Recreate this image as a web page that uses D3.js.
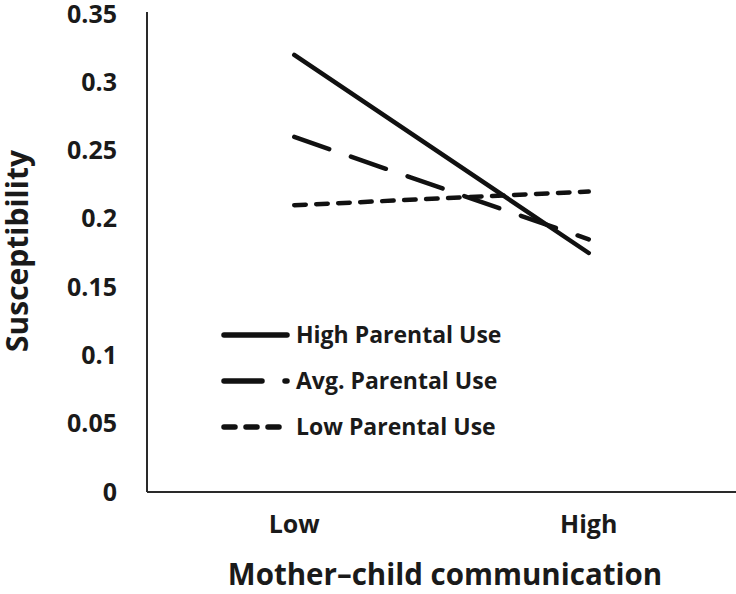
<!DOCTYPE html>
<html><head><meta charset="utf-8">
<script src="https://cdn.jsdelivr.net/npm/d3@7"></script>
<style>body{margin:0;background:#fff}svg{display:block}text{font-family:"Open Sans",sans-serif;font-weight:bold;fill:#1a1a1a}</style>
</head><body><svg id="c" width="736" height="594"></svg>
<script>
const categories = ["Low", "High"];
const seriesNames = ["High Parental Use", "Avg. Parental Use", "Low Parental Use"];
const highUse = [0.32, 0.175];
const avgUse = [0.26, 0.185];
const lowUse = [0.21, 0.22];
const yTicks = [0, 0.05, 0.1, 0.15, 0.2, 0.25, 0.3, 0.35];
const yTickLabels = ["0", "0.05", "0.1", "0.15", "0.2", "0.25", "0.3", "0.35"];

const series = [
  {name: seriesNames[0], values: highUse, dash: null, legDash: null},
  {name: seriesNames[1], values: avgUse, dash: "37,23", legDash: "38,23"},
  {name: seriesNames[2], values: lowUse, dash: "11.5,10.5", legDash: "11,11"}
];

const svg = d3.select("#c");
const mL = 147, mR = 736, mT = 14, mB = 492;
const x = d3.scaleBand().domain(categories).range([mL, mR]);
const y = d3.scaleLinear().domain([0, 0.35]).range([mB, mT]);
const ink = "#111";

// axes
const yAxis = svg.append("g").attr("transform", `translate(${mL},0)`)
  .call(d3.axisLeft(y).tickValues(yTicks).tickFormat((d,i)=>yTickLabels[i]).tickSize(0).tickPadding(30));
yAxis.select(".domain").attr("stroke", "#2a2a2a").attr("stroke-width", 2).attr("d", `M0,${mT-2}V${mB}`);
yAxis.selectAll("text").attr("font-size", 25).attr("font-family", "Open Sans").attr("font-weight", "bold").attr("fill", "#1a1a1a");

const xAxis = svg.append("g").attr("transform", `translate(0,${mB})`)
  .call(d3.axisBottom(x).tickSize(0).tickPadding(23));
xAxis.select(".domain").attr("stroke", "#2a2a2a").attr("stroke-width", 2).attr("d", `M${mL},0H${mR}`);
xAxis.selectAll("text").attr("font-size", 25).attr("font-family", "Open Sans").attr("font-weight", "bold").attr("fill", "#1a1a1a");

// lines
const line = d3.line().x((d,i)=>x(categories[i]) + x.bandwidth()/2).y(d=>y(d));
series.forEach(s => {
  svg.append("path").datum(s.values).attr("d", line)
    .attr("fill", "none").attr("stroke", ink).attr("stroke-width", 4.5)
    .attr("stroke-linecap", "round")
    .attr("stroke-dasharray", s.dash);
});

// legend
const legY = [335, 381, 427];
series.forEach((s, i) => {
  const g = svg.append("g").attr("transform", `translate(0,${legY[i]})`);
  g.append("line").attr("x1", 224).attr("x2", 287).attr("y1", 0).attr("y2", 0)
    .attr("stroke", ink).attr("stroke-width", 5.5).attr("stroke-linecap", "round")
    .attr("stroke-dasharray", s.legDash);
  g.append("text").attr("x", 296).attr("y", 0).attr("dy", "0.36em").attr("font-size", 23).text(s.name);
});

// titles
svg.append("text").attr("transform", "translate(28,251) rotate(-90)").attr("text-anchor", "middle")
  .attr("font-size", 30).text("Susceptibility");
svg.append("text").attr("x", 445).attr("y", 585).attr("text-anchor", "middle")
  .attr("font-size", 29.5).text("Mother–child communication");
</script></body></html>
